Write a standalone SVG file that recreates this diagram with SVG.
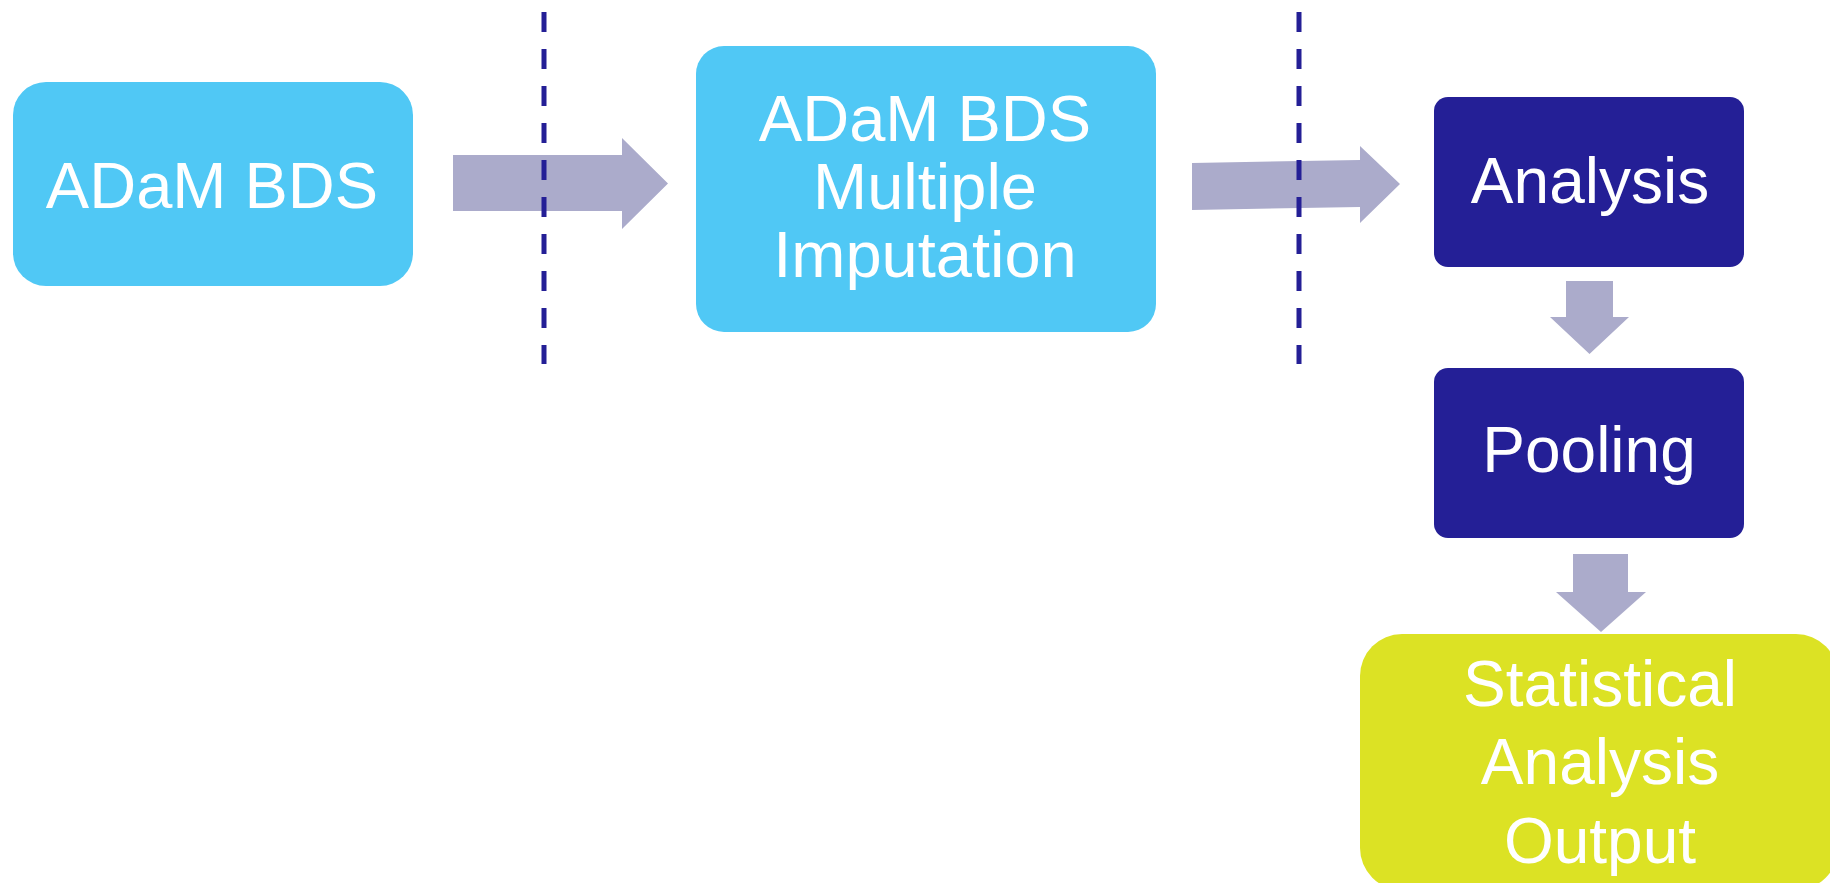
<svg xmlns="http://www.w3.org/2000/svg" width="1830" height="883" viewBox="0 0 1830 883">
  <style>
    .label { font-family: "Liberation Sans", Arial, sans-serif; font-size: 65px; fill: #ffffff; text-anchor: middle; }
    .small { font-size: 64px; }
    .light { fill: #50C8F5; }
    .dark { fill: #241F96; }
    .lime { fill: #DCE224; }
    .flow { fill: #ABABCB; }
    .divider { stroke: #241F96; stroke-width: 5; stroke-dasharray: 20 17; fill: none; }
  </style>

  <rect width="1830" height="883" fill="#ffffff"/>

  <!-- Process stages -->
  <g id="node-adam-bds">
    <rect class="light" x="13" y="82" width="400" height="204" rx="33" ry="33"/>
    <text class="label" x="212" y="208">ADaM BDS</text>
  </g>

  <g id="node-adam-bds-mi">
    <rect class="light" x="696" y="46" width="460" height="286" rx="28" ry="28"/>
    <text class="label" x="925" y="141">ADaM BDS</text>
    <text class="label" x="925" y="209">Multiple</text>
    <text class="label" x="925" y="277">Imputation</text>
  </g>

  <g id="node-analysis">
    <rect class="dark" x="1434" y="97" width="310" height="170" rx="14" ry="14"/>
    <text class="label small" x="1590" y="203">Analysis</text>
  </g>

  <g id="node-pooling">
    <rect class="dark" x="1434" y="368" width="310" height="170" rx="14" ry="14"/>
    <text class="label small" x="1589" y="472">Pooling</text>
  </g>

  <g id="node-output">
    <rect class="lime" x="1360" y="634" width="478" height="256" rx="42" ry="42"/>
    <text class="label small" x="1600" y="706">Statistical</text>
    <text class="label small" x="1600" y="784">Analysis</text>
    <text class="label small" x="1600" y="863">Output</text>
  </g>

  <!-- Block arrows between stages -->
  <g id="connectors">
    <path class="flow" d="M453,155 L622,155 L622,138 L668,183.5 L622,229 L622,211 L453,211 Z"/>
    <path class="flow" d="M1192,163 L1360,160 L1360,146 L1400,184 L1360,223 L1360,207 L1192,210 Z"/>
    <path class="flow" d="M1566,281 L1613,281 L1613,317 L1629,317 L1589.5,354 L1550,317 L1566,317 Z"/>
    <path class="flow" d="M1573,554 L1628,554 L1628,592 L1646,592 L1601,632 L1556,592 L1573,592 Z"/>
  </g>

  <!-- Dashed phase separators -->
  <g id="separators">
    <line class="divider" x1="544" y1="12" x2="544" y2="364"/>
    <line class="divider" x1="1299" y1="12" x2="1299" y2="364"/>
  </g>
</svg>
